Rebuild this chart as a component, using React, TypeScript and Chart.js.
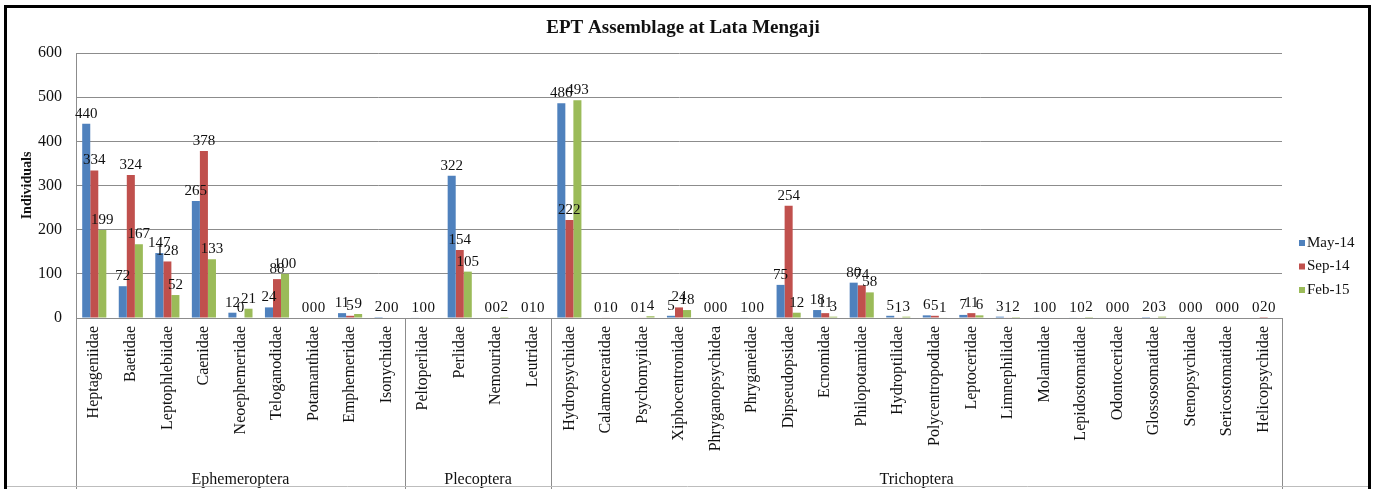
import React, { useEffect, useRef } from "react";
import { Chart, registerables } from "chart.js";
Chart.register(...registerables);

const chartTitle = "EPT Assemblage at Lata Mengaji";
const yAxisTitle = "Individuals";
const categories = [
  "Heptageniidae", "Baetidae", "Leptophlebiidae", "Caenidae", "Neoephemeridae", "Teloganodidae", "Potamanthidae", "Emphemeridae", "Isonychidae",
  "Peltoperlidae", "Perlidae", "Nemouridae", "Leutridae",
  "Hydropsychidae", "Calamoceratidae", "Psychomyiidae", "Xiphocentronidae", "Phryganopsychidea", "Phryganeidae", "Dipseudopsidae", "Ecnomidae",
  "Philopotamidae", "Hydroptilidae", "Polycentropodidae", "Leptoceridae", "Limnephilidae", "Molannidae", "Lepidostomatidae", "Odontoceridae",
  "Glossosomatidae", "Stenopsychidae", "Sericostomatidae", "Helicopsychidae",
];
const groups = ["Ephemeroptera", "Plecoptera", "Trichoptera"];
const groupSizes = [9, 4, 20];
const seriesNames = ["May-14", "Sep-14", "Feb-15"];
const seriesColors = ["#4F81BD", "#C0504D", "#9BBB59"];
const may14 = [440, 72, 147, 265, 12, 24, 0, 11, 2, 1, 322, 0, 0, 486, 0, 0, 5, 0, 1, 75, 18, 80, 5, 6, 7, 3, 1, 1, 0, 2, 0, 0, 0];
const sep14 = [334, 324, 128, 378, 0, 88, 0, 5, 0, 0, 154, 0, 1, 222, 1, 1, 24, 0, 0, 254, 11, 74, 1, 5, 11, 1, 0, 0, 0, 0, 0, 0, 2];
const feb15 = [199, 167, 52, 133, 21, 100, 0, 9, 0, 0, 105, 2, 0, 493, 0, 4, 18, 0, 0, 12, 3, 58, 3, 1, 6, 2, 0, 2, 0, 3, 0, 0, 0];
const yMin = 0;
const yMax = 600;
const yStep = 100;

const FONT = "'Liberation Serif', 'Times New Roman', serif";
const GRID = "#8c8c8c";

const overlayPlugin = {
  id: "overlay",
  afterDraw(chart: any) {
    const ctx = chart.ctx as CanvasRenderingContext2D;
    const x = chart.scales.x;
    const area = chart.chartArea;
    const W = chart.width;
    const H = chart.height;
    ctx.save();

    // group separators & group names
    ctx.strokeStyle = GRID;
    ctx.lineWidth = 1;
    const half = (x.getPixelForValue(1) - x.getPixelForValue(0)) / 2;
    let start = 0;
    const bounds: number[] = [x.getPixelForValue(0) - half];
    groupSizes.forEach((n) => {
      start += n;
      bounds.push(x.getPixelForValue(start - 1) + half);
    });
    bounds.forEach((b) => {
      const px = Math.round(b) + 0.5;
      ctx.beginPath();
      ctx.moveTo(px, area.bottom);
      ctx.lineTo(px, H);
      ctx.stroke();
    });
    ctx.fillStyle = "#111";
    ctx.font = `16px ${FONT}`;
    ctx.textAlign = "center";
    ctx.textBaseline = "alphabetic";
    groups.forEach((g, i) => {
      ctx.fillText(g, (bounds[i] + bounds[i + 1]) / 2, 484);
    });

    // data labels
    ctx.font = `15px ${FONT}`;
    ctx.fillStyle = "#111";
    ctx.textAlign = "center";
    ctx.textBaseline = "alphabetic";
    chart.data.datasets.forEach((ds: any, di: number) => {
      const meta = chart.getDatasetMeta(di);
      meta.data.forEach((bar: any, i: number) => {
        ctx.fillText(String(ds.data[i]), bar.x, bar.y - 6);
      });
    });

    // legend
    ctx.font = `15px ${FONT}`;
    ctx.textAlign = "left";
    ctx.textBaseline = "middle";
    chart.data.datasets.forEach((ds: any, di: number) => {
      const cy = 243 + di * 23.5;
      ctx.fillStyle = ds.backgroundColor;
      ctx.fillRect(1299, cy - 3, 6, 6);
      ctx.fillStyle = "#111";
      ctx.fillText(ds.label, 1307, cy);
    });

    // title
    ctx.font = `bold 19px ${FONT}`;
    ctx.textAlign = "center";
    ctx.textBaseline = "middle";
    ctx.fillStyle = "#111";
    ctx.fillText(chartTitle, 683, 28);

    // outer frame
    ctx.strokeStyle = "#000";
    ctx.lineWidth = 3;
    ctx.beginPath();
    ctx.moveTo(5.5, H);
    ctx.lineTo(5.5, 6.5);
    ctx.lineTo(W - 4.5, 6.5);
    ctx.lineTo(W - 4.5, H);
    ctx.stroke();
    ctx.strokeStyle = "#bdbdbd";
    ctx.lineWidth = 1;
    ctx.beginPath();
    ctx.moveTo(7, 486.5);
    ctx.lineTo(W - 6, 486.5);
    ctx.stroke();
    ctx.restore();
  },
};

export default function App() {
  const ref = useRef<HTMLCanvasElement | null>(null);
  useEffect(() => {
    document.body.style.margin = "0";
    const canvas = ref.current;
    if (!canvas) return;
    const chart = new Chart(canvas, {
      type: "bar",
      data: {
        labels: categories,
        datasets: [may14, sep14, feb15].map((d, i) => ({
          label: seriesNames[i],
          data: d,
          backgroundColor: seriesColors[i],
          borderWidth: 0,
          categoryPercentage: 0.66,
          barPercentage: 1.0,
        })),
      },
      options: {
        responsive: false,
        animation: false,
        devicePixelRatio: 1,
        layout: { padding: { top: 53, right: 92, left: 0, bottom: 0 } },
        plugins: {
          legend: { display: false },
          title: { display: false },
          tooltip: { enabled: false },
        },
        scales: {
          x: {
            grid: { display: false, drawTicks: false },
            border: { display: true, color: GRID },
            ticks: {
              autoSkip: false,
              minRotation: 90,
              maxRotation: 90,
              padding: 8,
              color: "#111",
              font: { family: FONT, size: 16 },
            },
            afterFit: (s: any) => {
              s.height = 171;
            },
          },
          y: {
            min: yMin,
            max: yMax,
            ticks: {
              stepSize: yStep,
              padding: 14,
              color: "#111",
              font: { family: FONT, size: 16 },
            },
            grid: { color: GRID, drawTicks: false },
            border: { display: true, color: GRID },
            title: {
              display: true,
              text: yAxisTitle,
              color: "#111",
              font: { family: FONT, size: 14, weight: "bold" },
              padding: { top: 19, bottom: 0 },
            },
            afterFit: (s: any) => {
              s.width = 76;
            },
          },
        },
      },
      plugins: [overlayPlugin],
    });
    return () => chart.destroy();
  }, []);
  return <canvas ref={ref} width={1374} height={489} style={{ display: "block" }} />;
}
